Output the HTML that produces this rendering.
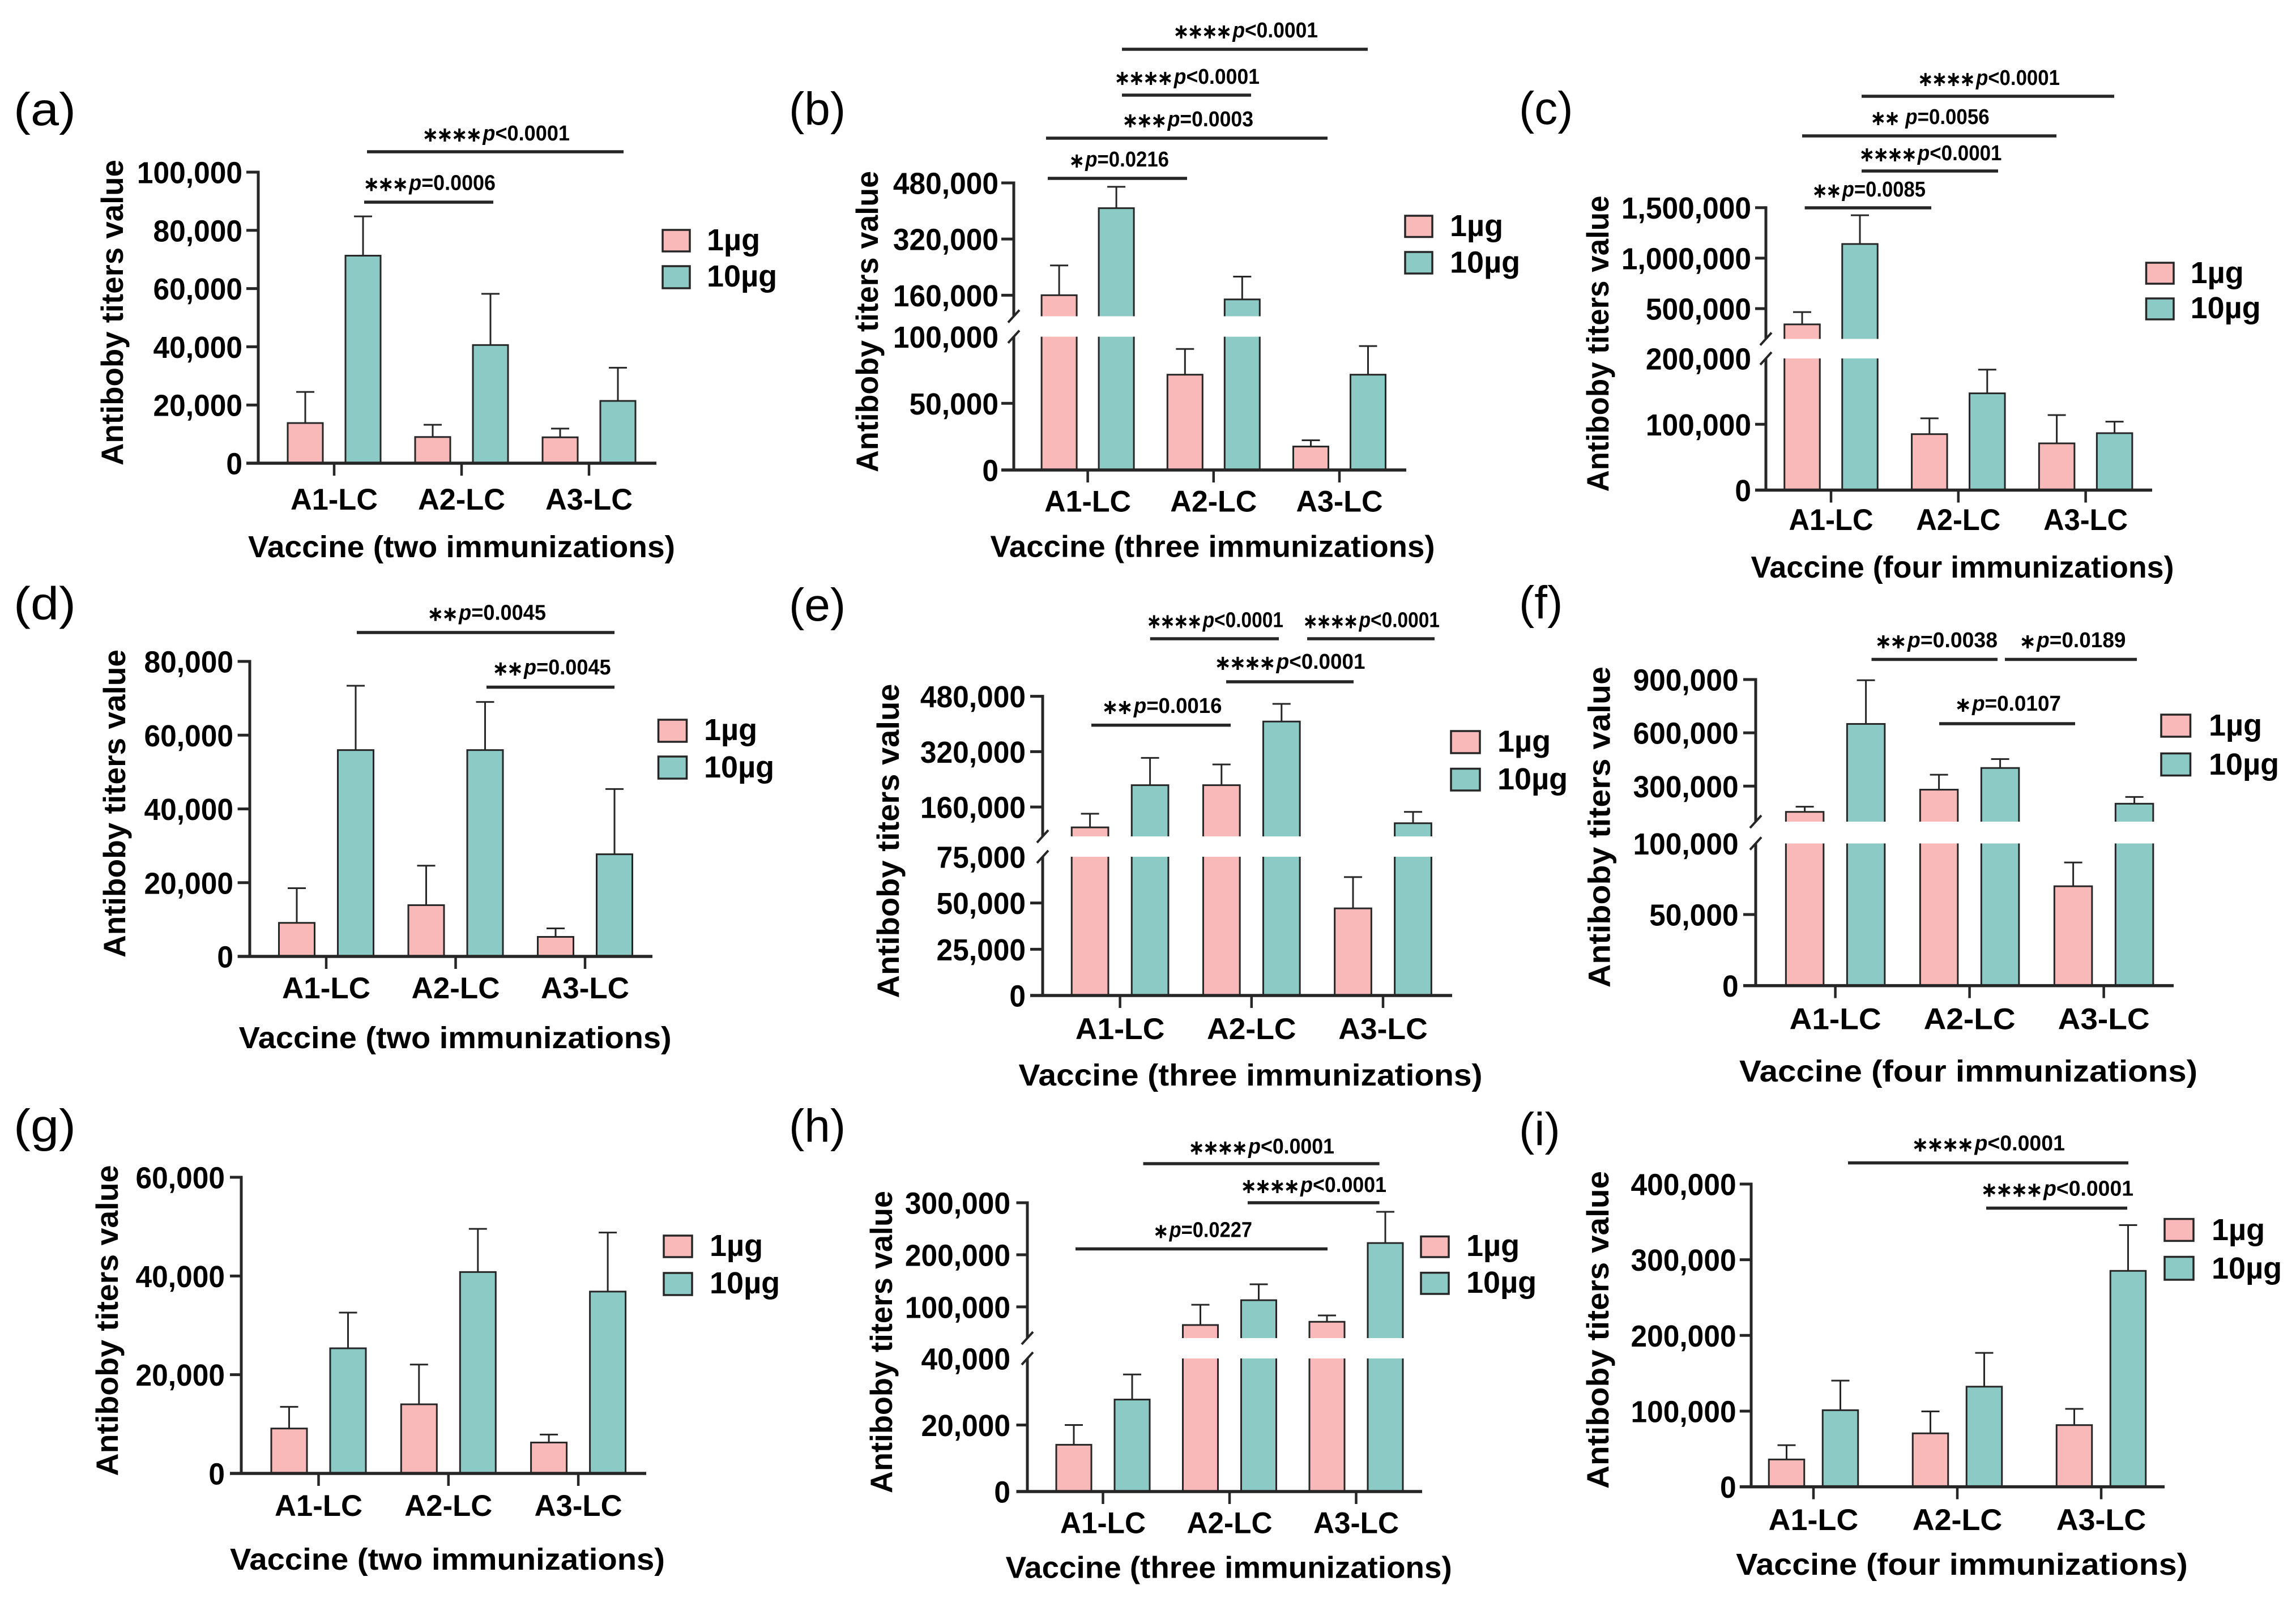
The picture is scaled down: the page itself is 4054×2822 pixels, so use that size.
<!DOCTYPE html>
<html lang="en">
<head>
<meta charset="utf-8">
<title>Antibody titers by vaccine and immunization count</title>
<style>
html,body{margin:0;padding:0;background:#fff}
svg{display:block}
text{font-family:"Liberation Sans",Arial,sans-serif;fill:#000}
</style>
</head>
<body>
<svg id="figure" xmlns="http://www.w3.org/2000/svg" width="4054" height="2822" viewBox="0 0 4054 2822"></svg>
<script>
const categories = ['A1-LC', 'A2-LC', 'A3-LC'];
const seriesNames = ['1µg', '10µg'];

const aTicks = [0, 20000, 40000, 60000, 80000, 100000];
const aTickLabels = ['0', '20,000', '40,000', '60,000', '80,000', '100,000'];
const aValues1 = [13800, 9000, 8900];
const aUpper1 = [24500, 13200, 11900];
const aValues10 = [71300, 40600, 21400];
const aUpper10 = [84800, 58200, 32800];

const bTicks = [0, 50000, 100000, 160000, 320000, 480000];
const bTickLabels = ['0', '50,000', '100,000', '160,000', '320,000', '480,000'];
const bValues1 = [160000, 71500, 17600];
const bUpper1 = [244800, 90800, 22300];
const bValues10 = [408000, 148000, 71500];
const bUpper10 = [469000, 213000, 93000];

const cTicks = [0, 100000, 200000, 500000, 1000000, 1500000];
const cTickLabels = ['0', '100,000', '200,000', '500,000', '1,000,000', '1,500,000'];
const cValues1 = [344000, 85000, 71000];
const cUpper1 = [466000, 109000, 114000];
const cValues10 = [1140000, 147000, 86500];
const cUpper10 = [1425000, 183000, 104000];

const dTicks = [0, 20000, 40000, 60000, 80000];
const dTickLabels = ['0', '20,000', '40,000', '60,000', '80,000'];
const dValues1 = [9100, 13900, 5300];
const dUpper1 = [18500, 24600, 7600];
const dValues10 = [55950, 55950, 27700];
const dUpper10 = [73400, 69000, 45400];

const eTicks = [0, 25000, 50000, 75000, 160000, 320000, 480000];
const eTickLabels = ['0', '25,000', '50,000', '75,000', '160,000', '320,000', '480,000'];
const eValues1 = [101000, 223000, 47100];
const eUpper1 = [140500, 283000, 64000];
const eValues10 = [223000, 407000, 113000];
const eUpper10 = [302000, 458000, 145800];

const fTicks = [0, 50000, 100000, 300000, 600000, 900000];
const fTickLabels = ['0', '50,000', '100,000', '300,000', '600,000', '900,000'];
const fValues1 = [155000, 280000, 69900];
const fUpper1 = [184000, 364000, 86600];
const fValues10 = [650000, 402000, 201000];
const fUpper10 = [896000, 452000, 239000];

const gTicks = [0, 20000, 40000, 60000];
const gTickLabels = ['0', '20,000', '40,000', '60,000'];
const gValues1 = [9100, 14000, 6260];
const gUpper1 = [13500, 22060, 7870];
const gValues10 = [25350, 40800, 36840];
const gUpper10 = [32580, 49550, 48800];

const hTicks = [0, 20000, 40000, 100000, 200000, 300000];
const hTickLabels = ['0', '20,000', '40,000', '100,000', '200,000', '300,000'];
const hValues1 = [14060, 65100, 71300];
const hUpper1 = [20000, 104000, 83500];
const hValues10 = [27650, 112800, 222600];
const hUpper10 = [35200, 143400, 282600];

const iTicks = [0, 100000, 200000, 300000, 400000];
const iTickLabels = ['0', '100,000', '200,000', '300,000', '400,000'];
const iValues1 = [36100, 70600, 81500];
const iUpper1 = [55000, 99600, 103000];
const iValues10 = [101200, 132300, 285300];
const iUpper10 = [140300, 176900, 345800];

const PINK = '#f8b9b8', TEAL = '#8ccac6', INK = '#262626';
const NS = 'http://www.w3.org/2000/svg';
const root = document.getElementById('figure');

const panels = [
 {id:'a', letter:'(a)', lx:24, lb:221, lw:110, ax:456, left:435, right:1159, y0:818,
  lower:[100000,304], upper:null, g0:590, gs:225, bo:51, bw:62,
  ticks:aTicks, labels:aTickLabels, v1:aValues1, u1:aUpper1, v10:aValues10, u10:aUpper10,
  tr:428, xb:900, xlw:154, xt:['Vaccine (two immunizations)',815,754,984], yt:[552,540,217],
  leg:[1170,1218,406,444,470,509,1248,442,506],
  sig:[[648,1101,268,745,1006,248,'****','<0.0001'],[643,871,357,641,875,335.5,'***','=0.0006']]},
 {id:'b', letter:'(b)', lx:1393, lb:220, lw:0, ax:1790, left:1768, right:2483, y0:830,
  lower:[100000,594.6], upper:[100000,558.5,480000,323], g0:1920.6, gs:222.2, bo:50.5, bw:62,
  ticks:bTicks, labels:bTickLabels, v1:bValues1, u1:bUpper1, v10:bValues10, u10:bUpper10,
  tr:1763, xb:903.5, xlw:153, xt:['Vaccine (three immunizations)',2141,785,983.6], yt:[568,532,1550],
  leg:[2481,2529,381,418.5,445,483,2560,417,481.6],
  sig:[[1981,2415,87,2071,2327,66,'****','<0.0001'],[1981,2209,168,1967,2224,148,'****','<0.0001'],
       [1847,2344,244,1981,2213,223,'***','=0.0003'],[1850,2096,315,1887,2064,294,'*','=0.0216']]},
 {id:'c', letter:'(c)', lx:2682, lb:219, lw:0, ax:3118, left:3099, right:3800, y0:865.5,
  lower:[200000,633], upper:[200000,598.5,1500000,366.7], g0:3233, gs:224.8, bo:51, bw:62.5,
  ticks:cTicks, labels:cTickLabels, v1:cValues1, u1:cUpper1, v10:cValues10, u10:cUpper10,
  tr:3092, xb:936, xlw:149, xt:['Vaccine (four immunizations)',3465,747,1020], yt:[607,523,2840],
  leg:[3789.5,3838,464,501,527,564,3867.6,500,562],
  sig:[[3287,3733,170,3385.5,3637,150,'****','<0.0001'],[3182,3631,240,3302,3512.6,219,'** ','=0.0056'],
       [3287,3528,302,3282,3534.5,283,'****','<0.0001'],[3186.6,3410,367,3199,3400,347,'**','=0.0085']]},
 {id:'d', letter:'(d)', lx:24, lb:1093.5, lw:110, ax:441, left:419.6, right:1152, y0:1689,
  lower:[80000,1168], upper:null, g0:576, gs:228.5, bo:52, bw:63,
  ticks:dTicks, labels:dTickLabels, v1:dValues1, u1:dUpper1, v10:dValues10, u10:dUpper10,
  tr:412, xb:1763, xlw:156, xt:['Vaccine (two immunizations)',803.6,764,1851], yt:[1419,544,221],
  leg:[1162.5,1212.5,1271,1310,1336,1375,1243,1307,1373],
  sig:[[630,1085,1117,754,964,1094.6,'**','=0.0045'],[859,1085,1213.5,869,1078.6,1191,'**','=0.0045']]},
 {id:'e', letter:'(e)', lx:1393, lb:1096, lw:0, ax:1841, left:1819, right:2564, y0:1758,
  lower:[75000,1513], upper:[75000,1477,480000,1229.6], g0:1977.6, gs:232.2, bo:53, bw:64.7,
  ticks:eTicks, labels:eTickLabels, v1:eValues1, u1:eUpper1, v10:eValues10, u10:eUpper10,
  tr:1811, xb:1835, xlw:157.5, xt:['Vaccine (three immunizations)',2208,819,1917], yt:[1485,555,1587],
  leg:[2562,2613,1291,1330,1357.5,1396,2644,1327.6,1394],
  sig:[[2030.7,2258,1128,2024,2266,1107.5,'****','<0.0001'],[2308,2533,1128,2300,2542,1107.5,'****','<0.0001'],
       [2165,2390,1204,2144,2410.5,1181,'****','<0.0001'],[1927,2173,1280.6,1945,2157.5,1259,'**','=0.0016']]},
 {id:'f', letter:'(f)', lx:2682, lb:1092, lw:0, ax:3100, left:3078, right:3838, y0:1740.6,
  lower:[100000,1489.5], upper:[100000,1451,900000,1200], g0:3240.6, gs:237, bo:54, bw:66.5,
  ticks:fTicks, labels:fTickLabels, v1:fValues1, u1:fUpper1, v10:fValues10, u10:fUpper10,
  tr:3069.6, xb:1817.4, xlw:162, xt:['Vaccine (four immunizations)',3475.5,809,1910], yt:[1460.5,567,2842.5],
  leg:[3816,3867.5,1262,1301,1330.5,1369.5,3900,1299,1368],
  sig:[[3304.5,3527,1164.5,3310,3527,1143,'**','=0.0038'],[3540,3773,1164.5,3565,3753.5,1143,'*','=0.0189'],
       [3424,3664,1278,3451,3639,1255,'*','=0.0107']]},
 {id:'g', letter:'(g)', lx:24, lb:2016, lw:110, ax:426, left:406, right:1141, y0:2602,
  lower:[60000,2079], upper:null, g0:562.5, gs:229.3, bo:52, bw:63,
  ticks:gTicks, labels:gTickLabels, v1:gValues1, u1:gUpper1, v10:gValues10, u10:gUpper10,
  tr:397, xb:2677, xlw:155, xt:['Vaccine (two immunizations)',790,768,2772], yt:[2332,549,208],
  leg:[1172,1222,2182,2220,2248,2287,1253,2218,2284],
  sig:[]},
 {id:'h', letter:'(h)', lx:1393, lb:2016, lw:0, ax:1814, left:1794.5, right:2511, y0:2634,
  lower:[40000,2399], upper:[40000,2363,300000,2124], g0:1947.5, gs:223.5, bo:51.5, bw:62,
  ticks:hTicks, labels:hTickLabels, v1:hValues1, u1:hUpper1, v10:hValues10, u10:hUpper10,
  tr:1784, xb:2707.7, xlw:151, xt:['Vaccine (three immunizations)',2169.7,788,2786.5], yt:[2370,534,1575],
  leg:[2509,2558,2183.5,2220,2247.6,2285,2589,2218,2283],
  sig:[[2018.5,2435.6,2055,2098,2356,2037,'****','<0.0001'],[2203,2435.6,2124,2190,2448,2105,'****','<0.0001'],
       [1899,2344,2205.5,2035.6,2211,2184.6,'*','=0.0227']]},
 {id:'i', letter:'(i)', lx:2682, lb:2022, lw:0, ax:3092, left:3071.8, right:3822, y0:2625.6,
  lower:[400000,2091], upper:null, g0:3202, gs:254, bo:47.5, bw:62.5,
  ticks:iTicks, labels:iTickLabels, v1:iValues1, u1:iUpper1, v10:iValues10, u10:iUpper10,
  tr:3065.6, xb:2702, xlw:158.6, xt:['Vaccine (four immunizations)',3464,797.5,2781], yt:[2348.5,561,2840],
  leg:[3822,3873,2152.6,2191.4,2219.5,2260,3905,2190,2258],
  sig:[[3263,3758,2053.6,3375,3646,2031.7,'****','<0.0001'],[3507,3756,2133.5,3497,3767,2111.5,'****','<0.0001']]}
];

function make(tag, name, parent) {
  const el = document.createElementNS(NS, tag);
  
  
  parent.appendChild(el);
  return el;
}
function set(el, attrs) {
  for (const k in attrs) { el.setAttribute(k, attrs[k]); }
  return el;
}
function line(name, parent, x1, y1, x2, y2, w) {
  return set(make('line', name, parent), {x1: x1, y1: y1, x2: x2, y2: y2, stroke: INK, 'stroke-width': w});
}
function label(name, parent, str, attrs) {
  const t = make('text', name, parent);
  t.textContent = str;
  return set(t, attrs);
}
function tickWidth(str) {
  let w = 0;
  for (const ch of str) { w += (ch === ',') ? 0.278 : 0.556; }
  return w * 51.5;
}

function yScale(p) {
  return function (v) {
    if (!p.upper || v <= p.lower[0]) {
      return p.y0 + (p.lower[1] - p.y0) * v / p.lower[0];
    }
    const u = p.upper;
    return u[1] + (u[3] - u[1]) * (v - u[0]) / (u[2] - u[0]);
  };
}

function drawBars(p, g, y) {
  const series = [
    {vals: p.v1, ups: p.u1, off: -p.bo, fill: PINK, key: '1ug'},
    {vals: p.v10, ups: p.u10, off: p.bo, fill: TEAL, key: '10ug'}
  ];
  series.forEach(function (s) {
    categories.forEach(function (cat, i) {
      const cx = p.g0 + p.gs * i + s.off;
      const top = y(s.vals[i]);
      const upper = y(s.ups[i]);
      const suffix = p.id + '-' + cat.toLowerCase() + '-' + s.key;
      line('error-bar-' + suffix, g, cx, top, cx, upper, 3);
      line('error-cap-' + suffix, g, cx - 16, upper, cx + 16, upper, 3);
      set(make('rect', 'bar-' + suffix, g), {x: cx - p.bw / 2, y: top, width: p.bw, height: p.y0 - top, fill: s.fill, stroke: INK, 'stroke-width': 3});
    });
  });
  if (p.upper) {
    set(make('rect', 'axis-break-gap', g), {x: p.ax + 6, y: p.upper[1], width: p.right - p.ax, height: p.lower[1] - p.upper[1], fill: '#fff'});
  }
}

function drawAxes(p, g, y) {
  const topY = p.upper ? p.upper[3] : p.lower[1];
  if (p.upper) {
    line('y-axis-upper', g, p.ax, topY - 2.5, p.ax, p.upper[1], 5);
    line('y-axis-lower', g, p.ax, p.lower[1], p.ax, p.y0, 5);
    line('axis-break-mark-upper', g, p.ax - 10, p.upper[1] + 11, p.ax + 10, p.upper[1] - 11, 4);
    line('axis-break-mark-lower', g, p.ax - 10, p.lower[1] + 11, p.ax + 10, p.lower[1] - 11, 4);
  } else {
    line('y-axis', g, p.ax, topY - 2.5, p.ax, p.y0, 5);
  }
  line('x-axis', g, p.left, p.y0, p.right, p.y0, 5.5);
  p.ticks.forEach(function (v, i) {
    const py = y(v);
    const isBreak = p.upper && v === p.lower[0];
    if (!isBreak && v !== 0) {
      line('y-tick-' + p.labels[i], g, p.left, py, p.ax, py, 5);
    }
    label('y-tick-label-' + p.labels[i], g, p.labels[i], {x: p.tr, y: py + 19.5, 'text-anchor': 'end', 'font-size': 54, 'font-weight': 'bold', textLength: tickWidth(p.labels[i]), lengthAdjust: 'spacingAndGlyphs'});
  });
  categories.forEach(function (cat, i) {
    const cx = p.g0 + p.gs * i;
    line('x-tick-' + cat.toLowerCase(), g, cx, p.y0, cx, p.y0 + 22, 4.5);
    label('x-tick-label-' + cat.toLowerCase(), g, cat, {x: cx, y: p.xb, 'text-anchor': 'middle', 'font-size': 53, 'font-weight': 'bold', textLength: p.xlw, lengthAdjust: 'spacingAndGlyphs'});
  });
  label('x-axis-title', g, p.xt[0], {x: p.xt[1], y: p.xt[3], 'text-anchor': 'middle', 'font-size': 54, 'font-weight': 'bold', textLength: p.xt[2], lengthAdjust: 'spacingAndGlyphs'});
  label('y-axis-title', g, 'Antiboby titers value', {transform: 'translate(' + p.yt[2] + ',' + p.yt[0] + ') rotate(-90)', x: 0, y: 0, 'text-anchor': 'middle', 'font-size': 55, 'font-weight': 'bold', textLength: p.yt[1], lengthAdjust: 'spacingAndGlyphs'});
}

function drawLegend(p, g) {
  const L = p.leg;
  const legend = make('g', 'legend', g);
  [[L[2], L[3], PINK, L[7]], [L[4], L[5], TEAL, L[8]]].forEach(function (row, i) {
    const entry = make('g', 'legend-entry-' + (i === 0 ? '1ug' : '10ug'), legend);
    set(make('rect', 'legend-swatch', entry), {x: L[0], y: row[0], width: L[1] - L[0], height: row[1] - row[0], fill: row[2], stroke: INK, 'stroke-width': 3.5});
    label('legend-label', entry, seriesNames[i], {x: L[6], y: row[3], 'font-size': 54, 'font-weight': 'bold'});
  });
}

function drawSignificance(p, g) {
  p.sig.forEach(function (s, i) {
    const item = make('g', 'significance-' + (i + 1), g);
    line('significance-line', item, s[0], s[2], s[1], s[2], 5.5);
    const t = make('text', 'significance-label', item);
    set(t, {x: s[3], y: s[5], 'font-size': 38, 'font-weight': 'bold', textLength: s[4] - s[3], lengthAdjust: 'spacingAndGlyphs'});
    const stars = make('tspan', 'significance-stars', t);
    stars.textContent = s[6].replace(/\*/g, '\u2217');
    set(stars, {dy: 2, style: 'font-family:"DejaVu Sans",sans-serif;font-size:37px;letter-spacing:-4px'});
    const pv = make('tspan', 'p-symbol', t);
    pv.textContent = 'p';
    set(pv, {dy: -2, dx: 5, 'font-style': 'italic'});
    const rest = make('tspan', 'p-value', t);
    rest.textContent = s[7];
  });
}

panels.forEach(function (p) {
  const g = make('g', 'panel-' + p.id, root);
  const y = yScale(p);
  const letter = label('panel-letter', g, p.letter, {x: p.lx, y: p.lb, 'font-size': 82});
  if (p.lw) {
    set(letter, {textLength: p.lw, lengthAdjust: 'spacingAndGlyphs'});
  }
  drawBars(p, g, y);
  drawAxes(p, g, y);
  drawLegend(p, g);
  drawSignificance(p, g);
});
</script>
</body>
</html>
